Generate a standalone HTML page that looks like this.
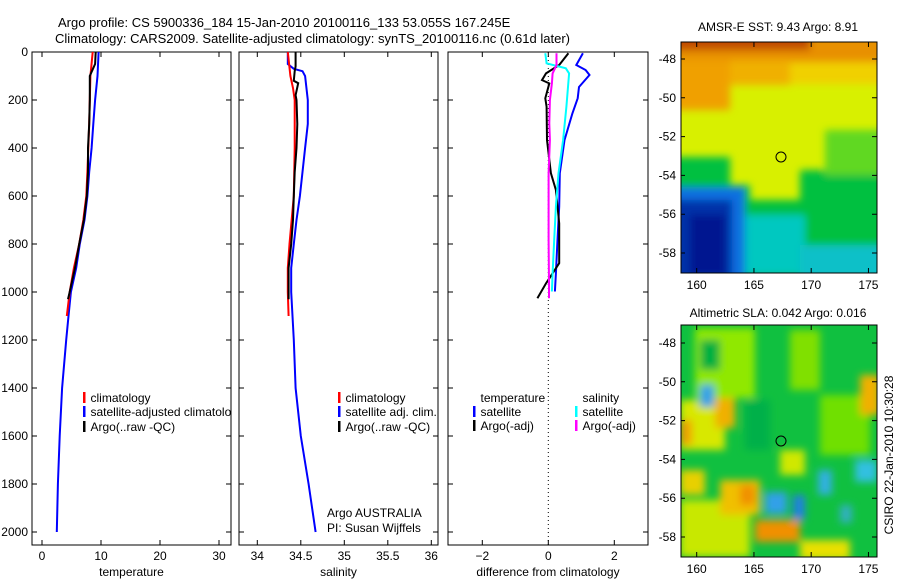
<!DOCTYPE html>
<html><head><meta charset="utf-8">
<style>
html,body{margin:0;padding:0;background:#fff;}
svg{display:block;font-family:"Liberation Sans",sans-serif;font-size:12px;}
</style></head>
<body>
<svg id="c" width="900" height="580" viewBox="0 0 900 580">
<defs>
<filter id="bl" filterUnits="userSpaceOnUse" x="640" y="0" width="260" height="580"><feGaussianBlur stdDeviation="4"/></filter>
<clipPath id="m1c"><rect x="681" y="42" width="196" height="231"/></clipPath>
<clipPath id="m2c"><rect x="681" y="325" width="196" height="232"/></clipPath>
<clipPath id="p1c"><rect x="32" y="52" width="199" height="493"/></clipPath>
</defs>
<text x="58" y="27" font-size="13">Argo profile: CS 5900336_184 15-Jan-2010 20100116_133 53.055S 167.245E</text>
<text x="55" y="43" font-size="13">Climatology: CARS2009. Satellite-adjusted climatology: synTS_20100116.nc (0.61d later)</text>

<g clip-path="url(#m1c)">
<rect x="681" y="42" width="196" height="231" fill="#d8f000"/>
<g filter="url(#bl)">
<rect x="670" y="30" width="220" height="35" fill="#e89000"/>
<rect x="670" y="30" width="140" height="20" fill="#c04800"/>
<rect x="670" y="60" width="60" height="50" fill="#f0a000"/>
<rect x="730" y="60" width="60" height="25" fill="#f0b000"/>
<rect x="790" y="62" width="100" height="22" fill="#f0d000"/>
<rect x="670" y="157" width="60" height="130" fill="#00c040"/>
<rect x="720" y="185" width="30" height="100" fill="#00c040"/>
<rect x="740" y="200" width="70" height="80" fill="#00c040"/>
<rect x="800" y="170" width="90" height="110" fill="#00c040"/>
<rect x="825" y="130" width="60" height="45" fill="#60d820"/>
<rect x="745" y="215" width="60" height="60" fill="#00c8c0"/>
<rect x="800" y="245" width="90" height="35" fill="#10c0c8"/>
<rect x="670" y="187" width="75" height="95" fill="#1070e0"/>
<rect x="670" y="200" width="62" height="80" fill="#0030a8"/>
<rect x="690" y="215" width="35" height="60" fill="#001890"/>
</g>
</g>
<rect x="681" y="42" width="196" height="231" fill="none" stroke="#000"/>
<circle cx="781" cy="157" r="5" fill="none" stroke="#000"/>
<text x="778" y="31" text-anchor="middle">AMSR-E SST: 9.43 Argo: 8.91</text>

<g clip-path="url(#m2c)">
<rect x="681" y="325" width="196" height="232" fill="#10c040"/>
<g filter="url(#bl)">
<rect x="695" y="328" width="60" height="70" fill="#90e800"/>
<rect x="790" y="330" width="30" height="60" fill="#80e000"/>
<rect x="820" y="395" width="50" height="60" fill="#70e000"/>
<rect x="680" y="400" width="45" height="50" fill="#d8e800"/>
<rect x="680" y="420" width="12" height="25" fill="#f0a000"/>
<rect x="715" y="398" width="20" height="30" fill="#f0b000"/>
<rect x="680" y="470" width="25" height="25" fill="#e8d000"/>
<rect x="680" y="500" width="70" height="57" fill="#c8e800"/>
<rect x="720" y="480" width="40" height="35" fill="#f0c000"/>
<rect x="740" y="485" width="15" height="20" fill="#f09000"/>
<rect x="755" y="520" width="45" height="22" fill="#f09000"/>
<rect x="800" y="540" width="50" height="20" fill="#e8e000"/>
<rect x="860" y="375" width="20" height="40" fill="#f0b000"/>
<rect x="780" y="450" width="25" height="25" fill="#d0e800"/>
<rect x="700" y="340" width="20" height="30" fill="#00b040"/>
<rect x="745" y="400" width="25" height="50" fill="#00b048"/>
<rect x="700" y="385" width="14" height="22" fill="#30a0e8"/>
<rect x="765" y="492" width="22" height="22" fill="#30a0e8"/>
<rect x="793" y="495" width="12" height="25" fill="#2080e0"/>
<rect x="818" y="470" width="14" height="25" fill="#30b0e0"/>
<rect x="855" y="460" width="22" height="22" fill="#30c0e0"/>
<rect x="840" y="505" width="12" height="18" fill="#30b0c0"/>
</g>
</g>
<rect x="681" y="325" width="196" height="232" fill="none" stroke="#000"/>
<circle cx="781" cy="441" r="5" fill="none" stroke="#000"/>
<text x="778" y="317" text-anchor="middle">Altimetric SLA: 0.042 Argo: 0.016</text>
<text transform="translate(893,455) rotate(-90)" text-anchor="middle">CSIRO 22-Jan-2010 10:30:28</text>
<g id="axes"></g>
</svg>
<script>
// depth axis
const depthTicks = [0,200,400,600,800,1000,1200,1400,1600,1800,2000];
// temperature panel
const tempTicks = [0,10,20,30];
const tP = [0,100,300,500,600,700,800,900,1000,1100];
const tClim = [8.6,8.2,8.0,7.7,7.5,7.0,6.3,5.4,4.7,4.2];
const tSatP = [0,100,200,300,400,500,600,700,800,900,1000,1100,1200,1400,1600,1800,2000];
const tSat = [9.6,9.4,9.0,8.7,8.4,8.0,7.7,7.2,6.4,5.8,4.9,4.5,4.1,3.4,3.0,2.7,2.5];
const tArgoP = [0,50,100,200,300,400,500,600,700,800,900,1000,1030];
const tArgo = [9.1,9.0,8.1,8.1,8.0,7.8,7.8,7.6,7.1,6.3,5.6,4.7,4.4];
// salinity panel
const salTicks = [34,34.5,35,35.5,36];
const sP = [0,100,150,200,400,600,800,900,1000,1100];
const sClim = [34.35,34.38,34.41,34.43,34.43,34.42,34.37,34.35,34.35,34.36];
const sSatP = [0,50,70,80,100,200,300,400,500,600,700,800,900,1000,1200,1400,1600,1800,2000];
const sSat = [34.35,34.35,34.42,34.52,34.55,34.58,34.58,34.55,34.52,34.49,34.45,34.42,34.39,34.39,34.42,34.44,34.50,34.59,34.67];
const sArgoP = [0,60,80,120,130,180,200,300,400,500,600,700,800,900,1030];
const sArgo = [34.44,34.44,34.43,34.42,34.47,34.44,34.45,34.46,34.45,34.43,34.42,34.41,34.39,34.36,34.36];
// difference panel
const diffTicks = [-2,0,2];
const dTArgoP = [5,54,89,117,131,193,228,367,505,575,714,880,964,1026];
const dTArgo = [0.61,0.33,-0.07,-0.19,0.03,-0.09,-0.05,-0.04,0.08,0.23,0.33,0.33,-0.07,-0.33];
const dTSatP = [5,54,75,96,146,193,256,367,505,644,783,922,998];
const dTSat = [1.05,0.85,1.13,1.25,0.93,0.89,0.73,0.49,0.35,0.33,0.28,0.23,0.2];
const dSSatP = [5,47,68,89,228,367,505,644,783,922,998];
const dSSat = [-0.09,-0.05,0.53,0.63,0.55,0.45,0.31,0.23,0.18,0.13,0.11];
const dSArgoP = [5,54,89,131,200,297,367,505,783,964,1026];
const dSArgo = [0.25,0.25,0.13,0.11,0.05,0.03,0.05,0.01,0.01,0.02,0.02];
// map axes
const lonTicks = [160,165,170,175];
const latTicks = [-48,-50,-52,-54,-56,-58];

const NS='http://www.w3.org/2000/svg';
const g=document.getElementById('axes');
function el(tag,attrs,parent,text){const e=document.createElementNS(NS,tag);for(const k in attrs)e.setAttribute(k,attrs[k]);if(text!==undefined)e.textContent=text;(parent||g).appendChild(e);return e;}
const yP=p=>52+p*0.24;
const panels=[
 {name:'temperature',x0:32,x1:231,sx:v=>42+v*5.9,ticks:tempTicks,label:'temperature'},
 {name:'salinity',x0:239,x1:438,sx:v=>257.3+(v-34)*87,ticks:salTicks,label:'salinity'},
 {name:'difference',x0:448,x1:648,sx:v=>548.3+v*33,ticks:diffTicks,label:'difference from climatology'}
];
const TOP=52,BOT=545;
panels.forEach((pn,i)=>{
 const r=el('rect',{x:pn.x0,y:TOP,width:pn.x1-pn.x0,height:BOT-TOP,fill:'none',stroke:'#000'});
 
 
 pn.ticks.forEach(t=>{
  const x=pn.sx(t);
  const tl=el('path',{d:`M${x},${BOT}v-5M${x},${TOP}v5`,stroke:'#000'});
  
  
  const lb=el('text',{x:x,y:560,'text-anchor':'middle'},g,t<0?'\u2212'+Math.abs(t):String(t));
  
  
 });
 depthTicks.forEach(p=>{
  const y=yP(p);
  const tk=el('path',{d:`M${pn.x0},${y}h5M${pn.x1},${y}h-5`,stroke:'#000'});
  
  
 });
 const xl=el('text',{x:(pn.x0+pn.x1)/2,y:576,'text-anchor':'middle'},g,pn.label);
 
 
});
depthTicks.forEach(p=>{
 const t=el('text',{x:28,y:yP(p)+4,'text-anchor':'end'},g,String(p));
 
 
});
const z=el('line',{x1:548.3,x2:548.3,y1:TOP,y2:BOT,stroke:'#000','stroke-dasharray':'1,3'});


function line(P,V,sx,color,name){
 const pts=P.map((p,i)=>sx(V[i]).toFixed(1)+','+yP(p).toFixed(1)).join(' ');
 const l=el('polyline',{points:pts,fill:'none',stroke:color,'stroke-width':2});
 
 
}
const [pT,pS,pD]=panels;
line(tSatP,tSat,pT.sx,'#0000ff','temp-satellite-line');
line(tP,tClim,pT.sx,'#ff0000','temp-climatology-line');
line(tArgoP,tArgo,pT.sx,'#000','temp-argo-line');
line(sSatP,sSat,pS.sx,'#0000ff','sal-satellite-line');
line(sP,sClim,pS.sx,'#ff0000','sal-climatology-line');
line(sArgoP,sArgo,pS.sx,'#000','sal-argo-line');
line(dTSatP,dTSat,pD.sx,'#0000ff','diff-temp-satellite-line');
line(dTArgoP,dTArgo,pD.sx,'#000','diff-temp-argo-line');
line(dSSatP,dSSat,pD.sx,'#00ffff','diff-sal-satellite-line');
line(dSArgoP,dSArgo,pD.sx,'#ff00ff','diff-sal-argo-line');
const p1g=el('g',{'clip-path':'url(#p1c)'});


function legend(x,y,color,text,name,parent){
 const par=parent||g;
 if(color){const m=el('rect',{x:x,y:y-10,width:2.5,height:11,fill:color},par);
 
 }
 const t=el('text',{x:x+7.5,y:y},par,text);
 
 
}
legend(83,402,'#ff0000','climatology','legend-temp-climatology',p1g);
legend(83,416,'#0000ff','satellite-adjusted climatology','legend-temp-satellite',p1g);
legend(83,431,'#000','Argo(..raw -QC)','legend-temp-argo',p1g);
legend(338,402,'#ff0000','climatology','legend-sal-climatology');
legend(338,416,'#0000ff','satellite adj. clim.','legend-sal-satellite');
legend(338,431,'#000','Argo(..raw -QC)','legend-sal-argo');
legend(473,402,null,'temperature','legend-temp-header');
legend(473,416,'#0000ff','satellite','legend-diff-temp-satellite');
legend(473,430,'#000','Argo(-adj)','legend-diff-temp-argo');
legend(575,402,null,'salinity','legend-sal-header');
legend(575,416,'#00ffff','satellite','legend-diff-sal-satellite');
legend(575,430,'#ff00ff','Argo(-adj)','legend-diff-sal-argo');
const a1=el('text',{x:327,y:517},g,'Argo AUSTRALIA');


const a2=el('text',{x:327,y:532},g,'PI: Susan Wijffels');


const maps=[{name:'sst',top:42,bot:273,lat48:59,lab:289},{name:'sla',top:325,bot:557,lat48:343,lab:573}];
const lonX=v=>696.7+(v-160)*11.45;
maps.forEach(m=>{
 lonTicks.forEach(v=>{
  const x=lonX(v);
  const tk=el('path',{d:`M${x},${m.bot}v-5M${x},${m.top}v5`,stroke:'#000'});
  
  
  const t=el('text',{x:x,y:m.lab,'text-anchor':'middle'},g,String(v));
  
  
 });
 latTicks.forEach(v=>{
  const y=m.lat48+(-48-v)*19.4;
  const tk=el('path',{d:`M681,${y}h4M877,${y}h-5`,stroke:'#000'});
  
  
  const t=el('text',{x:676,y:y+4,'text-anchor':'end'},g,String(v));
  
  
 });
});
</script>
</body></html>
